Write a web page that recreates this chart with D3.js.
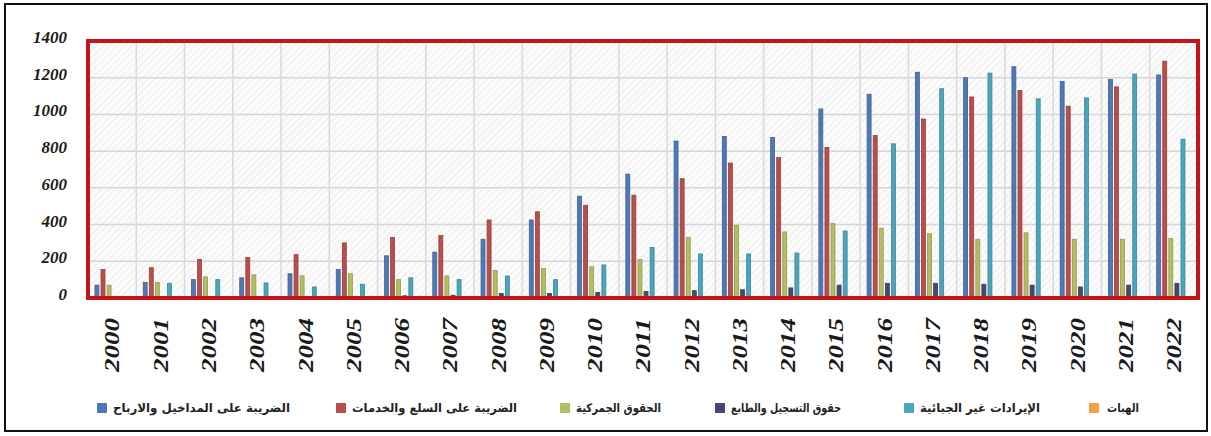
<!DOCTYPE html>
<html>
<head>
<meta charset="utf-8">
<script src="https://cdn.jsdelivr.net/npm/d3@7"></script>
<style>
  html, body { margin: 0; padding: 0; background: #ffffff; }
  svg { display: block; }
</style>
</head>
<body>
<svg id="chart" width="1211" height="436"></svg>
<script>
// Years on the category axis
const years = ["2000","2001","2002","2003","2004","2005","2006","2007","2008","2009","2010",
               "2011","2012","2013","2014","2015","2016","2017","2018","2019","2020","2021","2022"];

// Revenue series (one value per year)
const incomeTax   = [70, 85, 100, 110, 132, 155, 230, 250, 320, 425, 555, 675, 855, 880, 875, 1030, 1110, 1230, 1200, 1260, 1180, 1190, 1215];
const goodsTax    = [155, 165, 210, 220, 236, 300, 330, 340, 425, 470, 505, 560, 650, 735, 765, 820, 885, 975, 1095, 1130, 1045, 1150, 1290];
const customs     = [70, 85, 115, 126, 121, 132, 100, 120, 150, 160, 170, 210, 330, 395, 360, 405, 380, 350, 320, 355, 320, 320, 325];
const stampDuties = [3, 3, 3, 4, 5, 5, 12, 15, 25, 25, 30, 35, 40, 45, 55, 70, 80, 80, 75, 70, 60, 70, 80];
const nonTax      = [0, 80, 100, 82, 60, 75, 110, 100, 120, 100, 180, 275, 240, 240, 245, 365, 840, 1140, 1225, 1085, 1090, 1220, 865];
const grants      = [2, 2, 3, 3, 3, 3, 4, 4, 5, 5, 5, 5, 6, 6, 6, 6, 6, 6, 6, 6, 6, 6, 6];

const seriesNames = [
  "الضريبة على المداخيل والارباح",
  "الضريبة على السلع والخدمات",
  "الحقوق الجمركية",
  "حقوق التسجيل والطابع",
  "الإيرادات غير الجبائية",
  "الهبات"
];
const seriesColors = ["#4f79b6", "#b94e4b", "#b4bd62", "#4c4670", "#4aa5bd", "#f2a04e"];
const seriesValues = [incomeTax, goodsTax, customs, stampDuties, nonTax, grants];

const yTicks = [0, 200, 400, 600, 800, 1000, 1200, 1400];

const svg = d3.select("#chart");

// Plot area
const plot = { left: 88, right: 1198, top: 41, bottom: 298 };

const x0 = d3.scaleBand().domain(years).range([plot.left, plot.right])
  .paddingInner(0.2).paddingOuter(0.1);
const x1 = d3.scaleBand().domain(d3.range(seriesNames.length))
  .range([0, x0.bandwidth()]).padding(0.35);
const y = d3.scaleLinear().domain([0, 1400]).range([plot.bottom, plot.top]);

// Outer frame
svg.append("rect")
  .attr("x", 5).attr("y", 4).attr("width", 1202).attr("height", 427)
  .attr("fill", "#ffffff").attr("stroke", "#111").attr("stroke-width", 2);

// Hatched background for the plot area
const defs = svg.append("defs");
const pat = defs.append("pattern").attr("id", "hatch")
  .attr("patternUnits", "userSpaceOnUse").attr("width", 5).attr("height", 5)
  .attr("patternTransform", "rotate(45)");
pat.append("rect").attr("width", 5).attr("height", 5).attr("fill", "#fbfbfb");
pat.append("line").attr("x1", 0).attr("y1", 0).attr("x2", 0).attr("y2", 5)
  .attr("stroke", "#ececec").attr("stroke-width", 2);

svg.append("rect")
  .attr("x", plot.left).attr("y", plot.top)
  .attr("width", plot.right - plot.left).attr("height", plot.bottom - plot.top)
  .attr("fill", "url(#hatch)");

// Horizontal gridlines
svg.append("g").selectAll("line").data(yTicks).join("line")
  .attr("x1", plot.left).attr("x2", plot.right)
  .attr("y1", d => y(d)).attr("y2", d => y(d))
  .attr("stroke", "#d6d6d6").attr("stroke-width", 1.5);

// Vertical gridlines between year groups
const step = x0.step();
svg.append("g").selectAll("line").data(years.slice(1)).join("line")
  .attr("x1", d => x0(d) - step * x0.paddingInner() / 2)
  .attr("x2", d => x0(d) - step * x0.paddingInner() / 2)
  .attr("y1", plot.top).attr("y2", plot.bottom)
  .attr("stroke", "#dadada").attr("stroke-width", 1.5);

// Bars
const groups = svg.append("g").selectAll("g").data(years).join("g")
  .attr("transform", d => `translate(${x0(d)},0)`);

groups.selectAll("rect")
  .data((yr, i) => seriesValues.map((vals, s) => ({ s, v: vals[i] })))
  .join("rect")
  .attr("x", d => x1(d.s))
  .attr("width", x1.bandwidth())
  .attr("y", d => y(d.v))
  .attr("height", d => y(0) - y(d.v))
  .attr("fill", d => seriesColors[d.s])
  .attr("stroke", d => d3.color(seriesColors[d.s]).darker(0.6))
  .attr("stroke-width", 0.8);

// Red frame around the plot
svg.append("rect")
  .attr("x", plot.left).attr("y", plot.top)
  .attr("width", plot.right - plot.left).attr("height", plot.bottom - plot.top)
  .attr("fill", "none").attr("stroke", "#c3161c").attr("stroke-width", 4);

// Y axis labels
const yAxis = d3.axisLeft(y).tickValues(yTicks).tickFormat(d3.format("d"))
  .tickSize(0).tickPadding(0);
const gy = svg.append("g").attr("transform", "translate(67,-4)").call(yAxis);
gy.select(".domain").remove();
gy.selectAll("text")
  .attr("font-family", "'Liberation Serif', serif")
  .attr("font-weight", "bold").attr("font-style", "italic")
  .attr("font-size", 17).attr("fill", "#1a1a1a");

// X axis labels, rotated
const xAxis = d3.axisBottom(x0).tickSize(0).tickPadding(0);
const gx = svg.append("g").attr("transform", "translate(0,345)").call(xAxis);
gx.select(".domain").remove();
gx.selectAll("text")
  .attr("transform", "rotate(-90)")
  .attr("x", 0).attr("y", 0).attr("dy", "0.35em")
  .attr("text-anchor", "middle")
  .attr("font-family", "'Liberation Serif', serif")
  .attr("font-weight", "bold").attr("font-style", "italic")
  .attr("font-size", 21).attr("fill", "#1a1a1a")
  .attr("textLength", 54).attr("lengthAdjust", "spacingAndGlyphs");

// Legend: colour key on the left of each label
const legendItems = [
  { s: 0, sq: 97,   tx: 113,  tw: 177 },
  { s: 1, sq: 336,  tx: 352,  tw: 165 },
  { s: 2, sq: 560,  tx: 576,  tw: 85 },
  { s: 3, sq: 715,  tx: 731,  tw: 110 },
  { s: 4, sq: 904,  tx: 920,  tw: 120 },
  { s: 5, sq: 1089, tx: 1107, tw: 32 }
];
const lg = svg.append("g");
lg.selectAll("rect").data(legendItems).join("rect")
  .attr("x", d => d.sq).attr("y", 403).attr("width", 10).attr("height", 10)
  .attr("fill", d => seriesColors[d.s]);
lg.selectAll("text").data(legendItems).join("text")
  .attr("x", d => d.tx).attr("y", 408).attr("dy", "0.35em")
  .attr("text-anchor", "start")
  .attr("font-family", "'DejaVu Sans', sans-serif")
  .attr("font-weight", "bold").attr("font-size", 12).attr("fill", "#222")
  .attr("textLength", d => d.tw).attr("lengthAdjust", "spacingAndGlyphs")
  .text(d => seriesNames[d.s]);
</script>
</body>
</html>
